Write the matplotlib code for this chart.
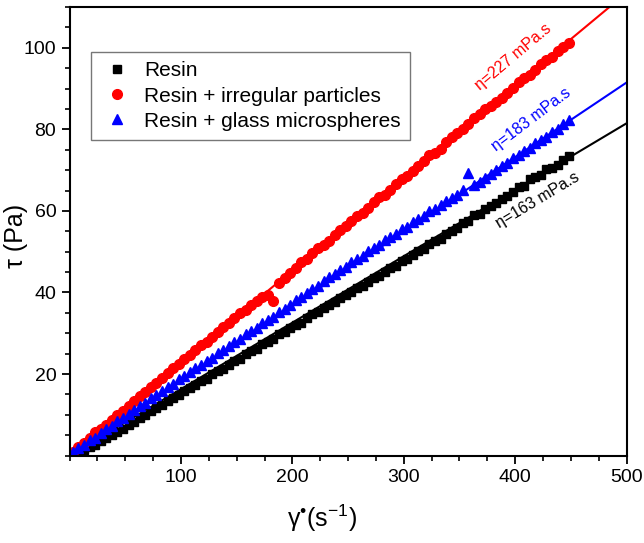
import numpy as np
import matplotlib
matplotlib.use("Agg")
import matplotlib.pyplot as plt
from matplotlib.ticker import MultipleLocator, FixedLocator

plt.rcParams['font.family'] = ['Liberation Sans', 'DejaVu Sans']
plt.rcParams['mathtext.fontset'] = 'custom'
plt.rcParams['mathtext.rm'] = 'Liberation Sans'
plt.rcParams['mathtext.it'] = 'Liberation Sans:italic'

# shear rate (1/s)
shear_rate = [3, 8, 13, 18, 23, 28, 33, 38, 43, 48, 53, 58, 63, 68, 73, 78, 83, 88, 93, 98,
              103, 108, 113, 118, 123, 128, 133, 138, 143, 148, 153, 158, 163, 168, 173, 178,
              183, 188, 193, 198, 203, 208, 213, 218, 223, 228, 233, 238, 243, 248, 253, 258,
              263, 268, 273, 278, 283, 288, 293, 298, 303, 308, 313, 318, 323, 328, 333, 338,
              343, 348, 353, 358, 363, 368, 373, 378, 383, 388, 393, 398, 403, 408, 413, 418,
              423, 428, 433, 438, 443, 448]

# shear stress (Pa)
tau_resin = [0.2, 0.6, 1.3, 2.0, 2.7, 3.5, 4.3, 5.0, 5.9, 6.6, 7.5, 8.3, 9.2, 9.9, 10.9, 11.6,
             12.5, 13.3, 14.2, 14.9, 15.9, 16.5, 17.4, 18.3, 18.9, 19.9, 20.8, 21.3, 22.3, 23.2,
             23.8, 24.8, 25.6, 26.2, 27.3, 27.9, 28.7, 29.7, 30.2, 31.2, 32.1, 32.6, 33.7, 34.6,
             35.1, 36.2, 36.9, 37.6, 38.7, 39.3, 40.1, 41.1, 41.7, 42.6, 43.6, 44.1, 45.1, 45.9,
             46.5, 47.6, 48.3, 49.1, 50.2, 50.7, 51.8, 52.6, 53.2, 54.3, 55.0, 55.8, 57.0, 57.6,
             58.9, 59.3, 60.4, 61.2, 61.9, 63.0, 63.7, 64.6, 65.8, 66.2, 67.9, 68.3, 68.8, 70.2,
             70.6, 71.3, 72.6, 73.4]
tau_irregular = [0.9, 2.0, 3.1, 4.3, 5.9, 6.5, 7.6, 8.8, 9.9, 10.9, 12.2, 13.4, 14.6, 15.6, 16.9,
                 17.9, 19.1, 20.3, 21.4, 22.4, 23.8, 24.6, 25.9, 27.2, 27.9, 29.1, 30.4, 31.5,
                 32.5, 33.7, 34.9, 35.7, 36.9, 38.0, 38.9, 39.3, 37.8, 42.3, 43.6, 44.9, 46.0,
                 47.4, 48.2, 49.6, 50.9, 51.6, 52.7, 54.2, 55.4, 56.2, 57.5, 58.8, 59.6, 60.7,
                 62.1, 63.3, 64.0, 65.1, 66.5, 67.8, 68.6, 69.7, 70.9, 72.3, 73.6, 74.2, 75.3,
                 76.9, 78.1, 79.2, 80.0, 81.4, 82.7, 83.8, 85.0, 85.7, 86.6, 87.8, 88.9, 90.1,
                 91.7, 92.5, 93.4, 94.6, 96.1, 96.9, 97.8, 99.2, 100.3, 101.2]
tau_glass = [0.8, 1.9, 2.6, 3.8, 4.4, 5.6, 6.5, 7.3, 8.4, 9.2, 10.3, 11.1, 12.2, 13.0, 14.1, 14.8,
             15.9, 16.8, 17.6, 18.7, 19.4, 20.5, 21.4, 22.1, 23.3, 24.0, 25.1, 25.9, 26.8, 27.9,
             28.6, 29.7, 30.6, 31.3, 32.5, 33.3, 34.1, 35.2, 36.0, 37.0, 38.1, 38.8, 39.9, 40.9,
             41.7, 42.9, 43.7, 44.5, 45.6, 46.3, 47.4, 48.3, 49.0, 50.1, 50.9, 51.7, 52.8, 53.5,
             54.4, 55.5, 56.1, 57.2, 57.9, 58.8, 59.9, 60.5, 61.4, 62.5, 63.1, 64.0, 65.1, 69.3,
             66.3, 67.2, 68.0, 69.1, 70.0, 71.0, 71.8, 72.9, 73.6, 74.8, 75.4, 76.6, 77.5, 78.2,
             79.4, 80.2, 81.3, 82.4]

# fitted viscosities (Pa.s)
eta_resin = 0.163
eta_irregular = 0.227
eta_glass = 0.183
fit_x = np.array([0, 500])

fig = plt.figure(figsize=(6.44, 5.43), dpi=100)
ax = fig.add_axes([0.108, 0.161, 0.865, 0.826])

ax.plot(fit_x, eta_resin * fit_x, color='black', lw=1.5, zorder=1)
ax.plot(fit_x, eta_irregular * fit_x, color='red', lw=1.5, zorder=1)
ax.plot(fit_x, eta_glass * fit_x, color='blue', lw=1.5, zorder=1)

ax.plot(shear_rate, tau_resin, 's', color='black', ms=6, ls='none', label='Resin', zorder=2)
ax.plot(shear_rate, tau_irregular, 'o', color='red', ms=7, ls='none',
        label='Resin + irregular particles', zorder=2)
ax.plot(shear_rate, tau_glass, '^', color='blue', ms=7, ls='none',
        label='Resin + glass microspheres', zorder=2)

ax.text(398, 97.7, 'η=227 mPa.s', color='red', fontsize=11.5, rotation=40,
        ha='center', va='center')
ax.text(414, 82.5, 'η=183 mPa.s', color='blue', fontsize=11.5, rotation=37,
        ha='center', va='center')
ax.text(420, 62.6, 'η=163 mPa.s', color='black', fontsize=11.5, rotation=31,
        ha='center', va='center')

ax.set_xlim(0, 500)
ax.set_ylim(0, 110)
ax.xaxis.set_major_locator(FixedLocator([100, 200, 300, 400, 500]))
ax.xaxis.set_minor_locator(MultipleLocator(25))
ax.yaxis.set_major_locator(FixedLocator([20, 40, 60, 80, 100]))
ax.yaxis.set_minor_locator(MultipleLocator(5))
ax.tick_params(which='major', direction='out', length=6, width=1.3, labelsize=14)
ax.tick_params(which='minor', direction='out', length=3.5, width=1.2)
for s in ax.spines.values():
    s.set_linewidth(1.5)

ax.set_xlabel('γ$^{•}$(s$^{-1}$)', fontsize=18)
ax.xaxis.set_label_coords(0.453, -0.105)
ax.set_ylabel('τ (Pa)', fontsize=18)
ax.yaxis.set_label_coords(-0.075, 0.49)

leg = ax.legend(loc='upper left', bbox_to_anchor=(0.038, 0.9), fontsize=15,
                frameon=True, fancybox=False, borderpad=0.45, handletextpad=0.5,
                labelspacing=0.3, handlelength=1.6, borderaxespad=0)
leg.get_frame().set_edgecolor('#555555')
leg.get_frame().set_linewidth(1.0)

fig.savefig('out.png', dpi=100)
